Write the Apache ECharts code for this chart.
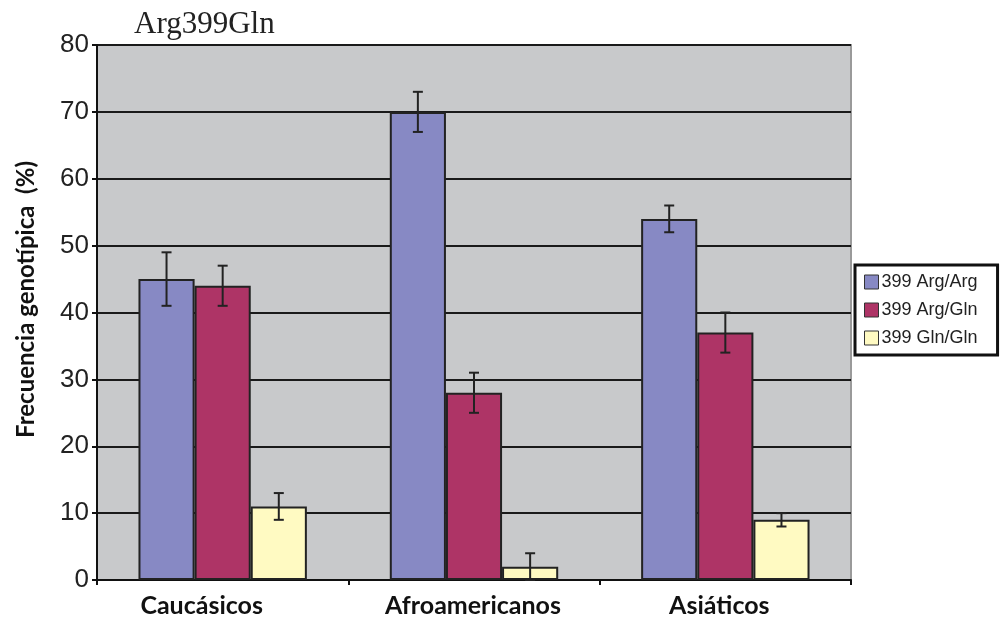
<!DOCTYPE html>
<html>
<head>
<meta charset="utf-8">
<script src="https://cdn.jsdelivr.net/npm/echarts@6/dist/echarts.min.js"></script>
<style>html,body{margin:0;padding:0;background:#fff}#c{width:1003px;height:621px}</style>
</head>
<body>
<div id="c"></div>
<script>
const categories = ['Caucásicos', 'Afroamericanos', 'Asiáticos'];
const seriesNames = ['399 Arg/Arg', '399 Arg/Gln', '399 Gln/Gln'];
const argArg = [45, 70, 54];
const argArgErr = [4, 3, 2];
const argGln = [44, 28, 37];
const argGlnErr = [3, 3, 3];
const glnGln = [11, 2, 9];
const glnGlnErr = [2, 2, 1];
const yTicks = [0, 10, 20, 30, 40, 50, 60, 70, 80];

const values = [argArg, argGln, glnGln];
const errs = [argArgErr, argGlnErr, glnGlnErr];
const colors = ['#8789c4', '#ae3466', '#fffac2'];
const CAT_GAP = 0.33;
// label horizontal nudges (px, to the left) as seen in the reference
const labelShift = [21, 1, 6];

const chart = echarts.init(document.getElementById('c'));

const barSeries = values.map((v, s) => ({
  name: seriesNames[s],
  type: 'bar',
  data: v,
  barGap: '0%',
  barCategoryGap: (CAT_GAP * 100) + '%',
  itemStyle: { color: colors[s], borderColor: '#222', borderWidth: 2 },
  z: 2
}));

const errSeries = values.map((v, s) => ({
  type: 'custom',
  name: 'err' + s,
  z: 5,
  data: v.map((val, i) => [i, Math.max(0, val - errs[s][i]), val + errs[s][i]]),
  encode: { x: 0, y: [1, 2] },
  renderItem: function (params, api) {
    const idx = api.value(0);
    const lo = api.coord([idx, api.value(1)]);
    const hi = api.coord([idx, api.value(2)]);
    const bandW = api.size([1, 0])[0];
    const barW = bandW * (1 - CAT_GAP) / 3;
    const x = lo[0] + (s - 1) * barW;
    const cap = 5;
    const style = { stroke: '#222', lineWidth: 2, fill: null };
    return {
      type: 'group',
      children: [
        { type: 'line', shape: { x1: x, y1: hi[1], x2: x, y2: lo[1] }, style: style },
        { type: 'line', shape: { x1: x - cap, y1: hi[1], x2: x + cap, y2: hi[1] }, style: style },
        { type: 'line', shape: { x1: x - cap, y1: lo[1], x2: x + cap, y2: lo[1] }, style: style }
      ]
    };
  }
}));

chart.setOption({
  animation: false,
  title: {
    text: 'Arg399Gln',
    left: 129, top: 4,
    textStyle: { fontFamily: 'Liberation Serif', fontWeight: 'normal', fontSize: 31, color: '#222' }
  },
  grid: {
    left: 97, right: 152, top: 45, bottom: 41,
    show: true, backgroundColor: '#c8c9cb', borderColor: '#9a9a9a', borderWidth: 2
  },
  legend: {
    data: seriesNames,
    orient: 'vertical',
    left: 855, top: 265,
    padding: [8, 20, 8, 9],
    itemGap: 10,
    itemWidth: 14, itemHeight: 14,
    icon: 'rect',
    borderColor: '#111', borderWidth: 3, borderRadius: 0,
    backgroundColor: '#fff',
    itemStyle: { borderColor: '#333', borderWidth: 1 },
    textStyle: { fontFamily: 'Liberation Sans', fontSize: 18, lineHeight: 18, color: '#222', padding: [0, 0, 0, -2] }
  },
  xAxis: {
    type: 'category',
    data: categories.map((c, i) => ({ value: c, textStyle: { padding: [0, labelShift[i] * 2, 0, 0] } })),
    axisLine: { lineStyle: { color: '#111', width: 2 } },
    axisTick: { show: true, alignWithLabel: false, length: 5, lineStyle: { color: '#111', width: 2 } },
    axisLabel: { fontFamily: 'Lato', fontWeight: 'bold', fontSize: 25, color: '#111', margin: 13 },
    splitLine: { show: false }
  },
  yAxis: {
    type: 'value',
    min: yTicks[0], max: yTicks[yTicks.length - 1], interval: 10,
    name: 'Frecuencia genotípica  (%)',
    nameLocation: 'middle',
    nameGap: 59,
    nameTextStyle: { fontFamily: 'Lato', fontWeight: 'bold', fontSize: 24, color: '#111', padding: [0, 0, 0, 26] },
    axisLine: { show: true, lineStyle: { color: '#111', width: 2 } },
    axisTick: { show: true, length: 5, lineStyle: { color: '#111', width: 2 } },
    axisLabel: { fontFamily: 'Liberation Sans', fontSize: 26, color: '#222', margin: 8 },
    splitLine: { show: true, lineStyle: { color: '#1a1a1a', width: 2 } }
  },
  series: barSeries.concat(errSeries)
});
</script>
</body>
</html>
